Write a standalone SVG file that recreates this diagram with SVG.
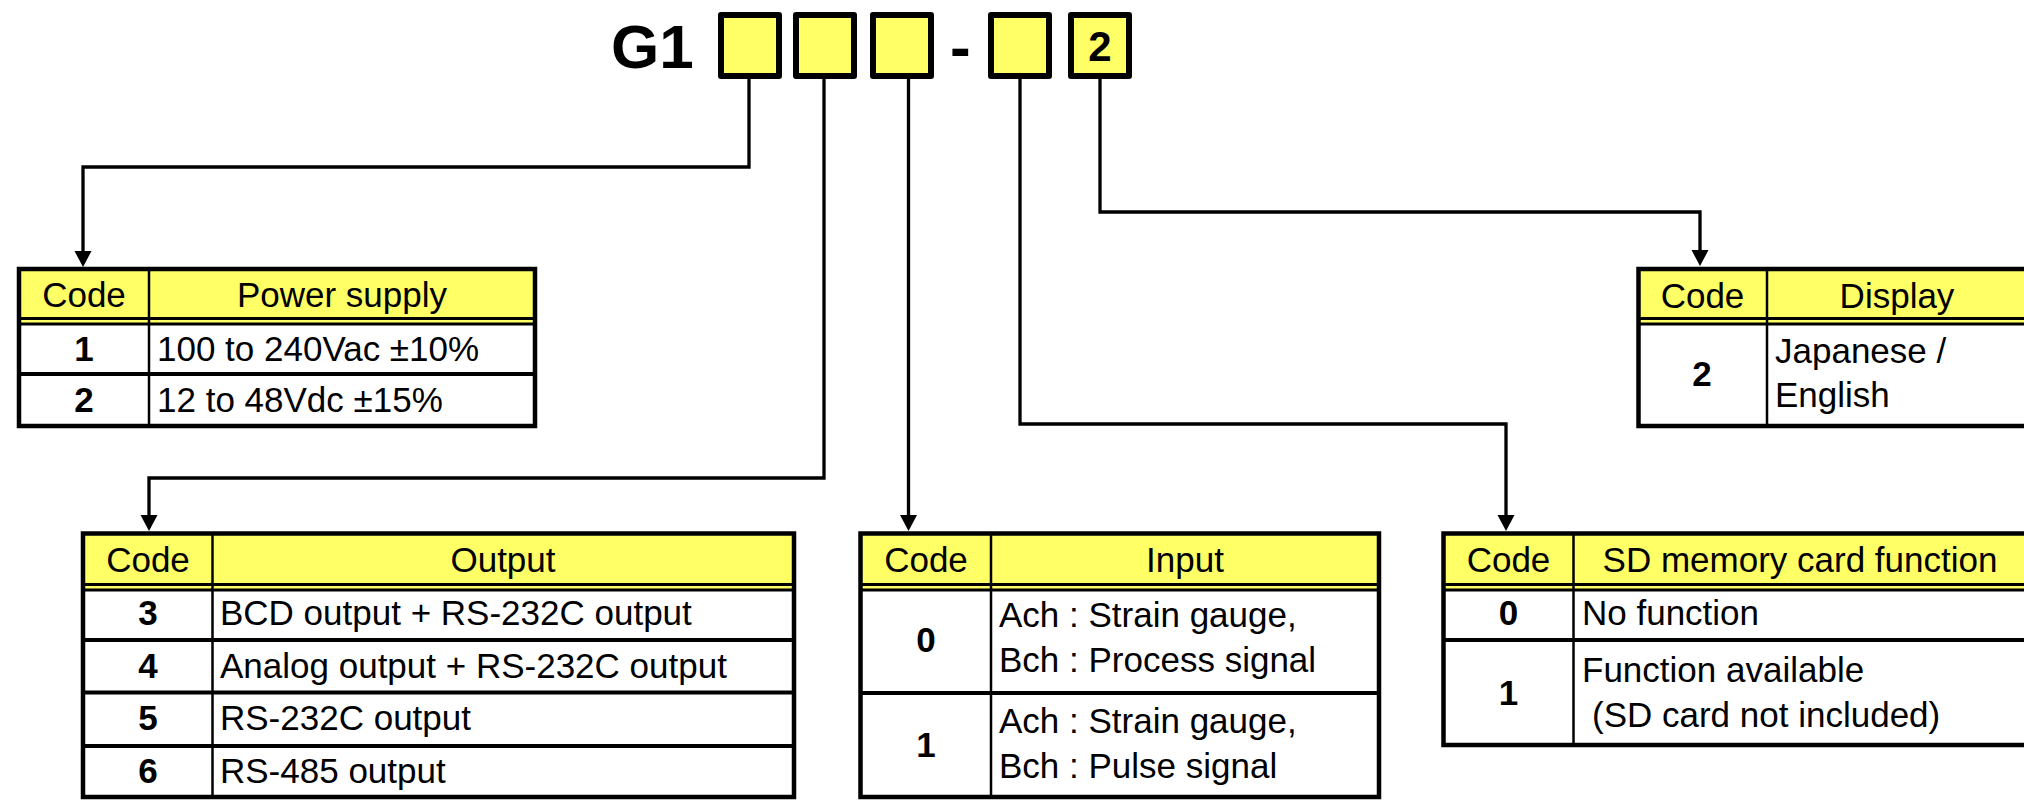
<svg xmlns="http://www.w3.org/2000/svg" width="2024" height="800" viewBox="0 0 2024 800">
<defs>
<style>
.t{font-family:"Liberation Sans",Arial,sans-serif;font-size:35px;fill:#000}
.b{font-weight:bold}
.m{text-anchor:middle}
.big{font-family:"Liberation Sans",Arial,sans-serif;font-weight:bold;font-size:62px;fill:#000}
.box{fill:#FFFF66;stroke:#000;stroke-width:6;stroke-linejoin:round}
.bg{fill:#fff}
.hdr{fill:#FFFF66}
.blk{fill:#000}
.ylw{fill:#FFFF66}
.border{fill:none;stroke:#000;stroke-width:4.5}
.vd{stroke:#000;stroke-width:2.5}
.hd{stroke:#000;stroke-width:4}
.conn{fill:none;stroke:#000;stroke-width:3.3;marker-end:url(#arr)}
</style>
<marker id="arr" viewBox="0 0 16 18" refX="0" refY="9" markerWidth="16" markerHeight="18" markerUnits="userSpaceOnUse" orient="auto">
<path d="M0,0.5 L16,9 L0,17.5 z" fill="#000"/>
</marker>
</defs>
<rect width="2024" height="800" fill="#fff"/>

<g id="code-header">
<text class="big" x="611" y="68">G1</text>
<rect id="box1" class="box" x="721" y="15" width="58" height="61"/>
<rect id="box2" class="box" x="796" y="15" width="58" height="61"/>
<rect id="box3" class="box" x="873" y="15" width="58" height="61"/>
<text class="big" x="950" y="68">-</text>
<rect id="box4" class="box" x="991" y="15" width="58" height="61"/>
<rect id="box5" class="box" x="1071" y="15" width="58" height="61"/>
<text class="t b m" style="font-size:42px" x="1100" y="61">2</text>
</g>

<g id="connectors">
<path class="conn" d="M749,79 V167 H83 V251"/>
<path class="conn" d="M824,79 V478 H149 V515"/>
<path class="conn" d="M908.5,79 V515"/>
<path class="conn" d="M1020,79 V424 H1506 V515"/>
<path class="conn" d="M1100,79 V212 H1700 V250"/>
</g>

<g id="power-supply">
<rect class="bg" x="19" y="269" width="516" height="157"/>
<rect class="hdr" x="19" y="269" width="516" height="48"/>
<rect class="blk" x="19" y="317" width="516" height="8.5"/>
<rect class="ylw" x="19" y="320" width="516" height="2.5"/>
<line class="vd" x1="149" y1="269" x2="149" y2="426"/>
<line class="hd" x1="19" y1="374" x2="535" y2="374"/>
<rect class="border" x="19" y="269" width="516" height="157"/>
<text class="t m" x="84" y="307">Code</text>
<text class="t m" x="342" y="307">Power supply</text>
<text class="t b m" x="84" y="361">1</text>
<text class="t" x="157" y="361">100 to 240Vac ±10%</text>
<text class="t b m" x="84" y="412">2</text>
<text class="t" x="157" y="412">12 to 48Vdc ±15%</text>
</g>

<g id="display">
<rect class="bg" x="1638.5" y="269" width="400" height="157"/>
<rect class="hdr" x="1638.5" y="269" width="400" height="48"/>
<rect class="blk" x="1638.5" y="317" width="400" height="8.5"/>
<rect class="ylw" x="1638.5" y="320" width="400" height="2.5"/>
<line class="vd" x1="1767" y1="269" x2="1767" y2="426"/>
<rect class="border" x="1638.5" y="269" width="400" height="157"/>
<text class="t m" x="1702.5" y="308">Code</text>
<text class="t m" x="1897" y="308">Display</text>
<text class="t b m" x="1702" y="386">2</text>
<text class="t" x="1775" y="363">Japanese /</text>
<text class="t" x="1775" y="407">English</text>
</g>

<g id="output">
<rect class="bg" x="83" y="533.5" width="711" height="263.5"/>
<rect class="hdr" x="83" y="533.5" width="711" height="49.5"/>
<rect class="blk" x="83" y="583" width="711" height="8.5"/>
<rect class="ylw" x="83" y="586" width="711" height="2.5"/>
<line class="vd" x1="212.5" y1="533.5" x2="212.5" y2="797"/>
<line class="hd" x1="83" y1="640" x2="794" y2="640"/>
<line class="hd" x1="83" y1="692.5" x2="794" y2="692.5"/>
<line class="hd" x1="83" y1="746" x2="794" y2="746"/>
<rect class="border" x="83" y="533.5" width="711" height="263.5"/>
<text class="t m" x="148" y="572">Code</text>
<text class="t m" x="503" y="572">Output</text>
<text class="t b m" x="148" y="625">3</text>
<text class="t" x="220" y="625">BCD output + RS-232C output</text>
<text class="t b m" x="148" y="677.5">4</text>
<text class="t" x="220" y="677.5">Analog output + RS-232C output</text>
<text class="t b m" x="148" y="730">5</text>
<text class="t" x="220" y="730">RS-232C output</text>
<text class="t b m" x="148" y="783">6</text>
<text class="t" x="220" y="783">RS-485 output</text>
</g>

<g id="input">
<rect class="bg" x="860.5" y="533.5" width="518.5" height="263.5"/>
<rect class="hdr" x="860.5" y="533.5" width="518.5" height="49.5"/>
<rect class="blk" x="860.5" y="583" width="518.5" height="8.5"/>
<rect class="ylw" x="860.5" y="586" width="518.5" height="2.5"/>
<line class="vd" x1="991" y1="533.5" x2="991" y2="797"/>
<line class="hd" x1="860.5" y1="693" x2="1379" y2="693"/>
<rect class="border" x="860.5" y="533.5" width="518.5" height="263.5"/>
<text class="t m" x="926" y="572">Code</text>
<text class="t m" x="1185" y="572">Input</text>
<text class="t b m" x="926" y="652">0</text>
<text class="t" x="999" y="627">Ach : Strain gauge,</text>
<text class="t" x="999" y="672">Bch : Process signal</text>
<text class="t b m" x="926" y="757">1</text>
<text class="t" x="999" y="733">Ach : Strain gauge,</text>
<text class="t" x="999" y="778">Bch : Pulse signal</text>
</g>

<g id="sd-card">
<rect class="bg" x="1443.5" y="533.5" width="600" height="211.5"/>
<rect class="hdr" x="1443.5" y="533.5" width="600" height="49.5"/>
<rect class="blk" x="1443.5" y="583" width="600" height="8.5"/>
<rect class="ylw" x="1443.5" y="586" width="600" height="2.5"/>
<line class="vd" x1="1573.5" y1="533.5" x2="1573.5" y2="745"/>
<line class="hd" x1="1443.5" y1="640" x2="2043.5" y2="640"/>
<rect class="border" x="1443.5" y="533.5" width="600" height="211.5"/>
<text class="t m" x="1508.5" y="572">Code</text>
<text class="t m" x="1800" y="572">SD memory card function</text>
<text class="t b m" x="1508.5" y="625">0</text>
<text class="t" x="1582" y="625">No function</text>
<text class="t b m" x="1508.5" y="705">1</text>
<text class="t" x="1582" y="682">Function available</text>
<text class="t" x="1592" y="727">(SD card not included)</text>
</g>
</svg>
